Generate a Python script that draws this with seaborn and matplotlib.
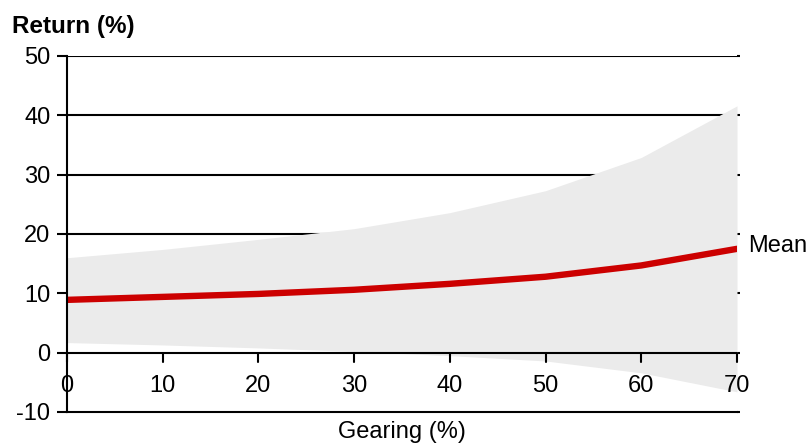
import matplotlib
matplotlib.use("Agg")
import matplotlib.pyplot as plt
import seaborn as sns
import pandas as pd

# Gearing levels and return statistics (%)
gearing = [0, 10, 20, 30, 40, 50, 60, 70]
mean_return = [8.9, 9.4, 9.9, 10.6, 11.6, 12.8, 14.7, 17.5]
upper_return = [16.0, 17.4, 19.1, 20.9, 23.6, 27.3, 32.9, 41.6]
lower_return = [1.7, 1.3, 0.8, 0.2, -0.5, -1.4, -3.4, -6.6]

y_ticks = [-10, 0, 10, 20, 30, 40, 50]
x_ticks = [0, 10, 20, 30, 40, 50, 60, 70]

sns.set_style("white")
plt.rcParams["font.family"] = ["Liberation Sans", "DejaVu Sans"]
plt.rcParams["text.color"] = "black"
plt.rcParams["ytick.color"] = "black"
plt.rcParams["xtick.color"] = "black"
plt.rcParams["axes.labelcolor"] = "black"

FS = 17

df = pd.DataFrame({"gearing": gearing, "mean": mean_return})

fig = plt.figure(figsize=(8.11, 4.44), dpi=100)
ax = fig.add_axes([67 / 811, 1 - 412 / 444, (737 - 67) / 811, (412 - 56) / 444])

# horizontal grid lines (behind the band)
for yv in [10, 20, 30, 40, 50]:
    ax.axhline(yv, color="black", lw=1.5, zorder=1)

# range band
ax.fill_between(gearing, lower_return, upper_return, color="#ebebeb", lw=0, zorder=2)

# zero axis with ticks
ax.axhline(0, color="black", lw=1.5, zorder=4)
for xv in x_ticks:
    ax.plot([xv, xv], [0, -1.6], color="black", lw=1.5, zorder=4, clip_on=False)
    ax.text(xv, -5.7, str(xv), ha="center", va="center", fontsize=FS, zorder=5)

# mean line
sns.lineplot(data=df, x="gearing", y="mean", color="#cc0000", lw=4.6, ax=ax, zorder=6)

ax.annotate("Mean", xy=(70, mean_return[-1]), xytext=(8, 2), textcoords="offset points",
            ha="left", va="center", fontsize=FS, annotation_clip=False)

ax.set_xlim(0, 70)
ax.set_ylim(-10, 50)
ax.set_xticks([])
ax.set_yticks(y_ticks)
ax.set_yticklabels([str(v) for v in y_ticks], fontsize=FS)
ax.tick_params(axis="y", which="both", left=True, direction="out", length=7, width=1.5,
               color="black", labelcolor="black", pad=5)
ax.tick_params(axis="y", right=True, labelright=False)
for tk in ax.yaxis.get_major_ticks():
    tk.tick2line.set_markersize(2)
    tk.tick2line.set_color("#444444")
ax.set_xlabel("")
ax.set_ylabel("")

for side in ["top", "right"]:
    ax.spines[side].set_visible(False)
ax.spines["left"].set_linewidth(1.5)
ax.spines["left"].set_color("black")
ax.spines["left"].set_zorder(7)
ax.spines["bottom"].set_linewidth(1.5)
ax.spines["bottom"].set_color("black")

fig.text(12 / 811, 1 - 26 / 444, "Return (%)", ha="left", va="center",
         fontsize=17.5, fontweight="bold")
fig.text(402 / 811, 1 - 432 / 444, "Gearing (%)", ha="center", va="center", fontsize=FS)

fig.savefig("out.png", dpi=100)
